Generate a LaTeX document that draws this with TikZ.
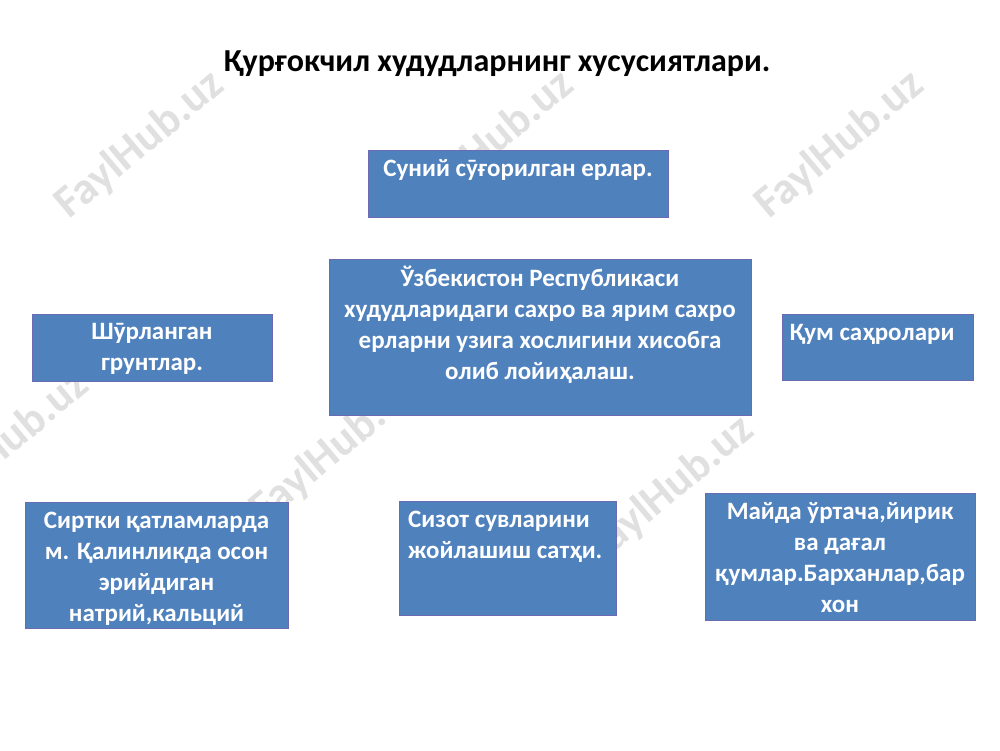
\documentclass[tikz,border=0pt]{standalone}
\usepackage{fontspec}
\setmainfont{Carlito}
\begin{document}
\begin{tikzpicture}[x=1pt,y=-1pt,
  box/.style={draw=blue!40!white!70!black,line width=0.8pt,fill={rgb,255:red,79;green,129;blue,189},inner sep=0pt},
  txt/.style={text=white,font=\fontsize{25}{31}\selectfont\bfseries,align=center,inner sep=0pt,anchor=north},
  wm/.style={text=black!12,font=\fontsize{45}{45}\selectfont\bfseries,rotate=40}]
\useasboundingbox (0,0) rectangle (1000,750);
\fill[white] (0,0) rectangle (1000,750);
\foreach \p in {(140,145),(490,145),(840,145),(5,445),(335,450),(670,490)}
  \node[wm] at \p {FaylHub.uz};
\node[font=\fontsize{32}{36}\selectfont\bfseries] (title) at (497,64) {Қурғокчил худудларнинг хусусиятлари.};
\node[box,minimum width=300,minimum height=67] (b1) at (518,183.5) {};
\node[txt] at (518,159) {Суний сӯғорилган ерлар.};
\node[box,minimum width=422,minimum height=156] (c) at (540,337) {};
\node[txt] at (540,266) {Ўзбекистон Республикаси\\худудларидаги сахро ва ярим сахро\\ерларни узига хослигини хисобга\\олиб лойиҳалаш.};
\node[box,minimum width=240,minimum height=67] (l) at (152,347.5) {};
\node[txt] at (152,323) {Шӯрланган\\грунтлар.};
\node[box,minimum width=191,minimum height=66] (r) at (877.5,347) {};
\node[txt] at (872,324) {Қум саҳролари};
\node[box,minimum width=263,minimum height=126] (bl) at (156.5,565) {};
\node[txt] at (156.5,512) {Сиртки қатламларда\\м. Қалинликда осон\\эрийдиган\\натрий,кальций};
\node[box,minimum width=217,minimum height=114] (bm) at (507.5,558) {};
\node[txt,align=left,anchor=north west] at (408,511) {Сизот сувларини\\жойлашиш сатҳи.};
\node[box,minimum width=270,minimum height=127] (br) at (840,556.5) {};
\node[txt] at (840,502) {Майда ўртача,йирик\\ва дағал\\қумлар.Барханлар,бар\\хон};
\end{tikzpicture}
\end{document}
